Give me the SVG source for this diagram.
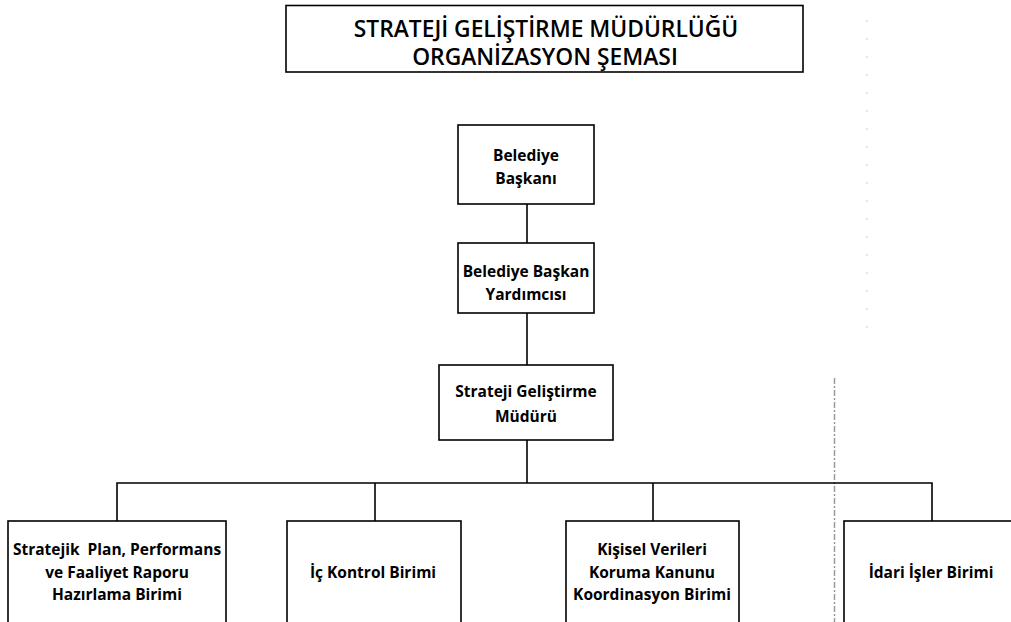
<svg xmlns="http://www.w3.org/2000/svg" width="1011" height="622" viewBox="0 0 1011 622">
<style>
.box{fill:#fff;stroke:#000;stroke-width:1.6}
.ln{fill:none;stroke:#000;stroke-width:1.6}
.t{font-family:"Open Sans","Noto Sans","Liberation Sans",sans-serif;font-weight:700;font-size:15.5px;fill:#000;text-anchor:middle}
.title{font-family:"Open Sans","Noto Sans","Liberation Sans",sans-serif;font-weight:600;font-size:22.8px;fill:#000;text-anchor:middle}
</style>
<rect width="1011" height="622" fill="#fff"/>
<g id="artifacts">
<line x1="834.5" y1="378" x2="834.5" y2="622" stroke="#999" stroke-width="1.5" stroke-dasharray="6 2 2 2"/>
<line x1="867" y1="20" x2="867" y2="340" stroke="#ccc" stroke-width="1" stroke-dasharray="2 16"/>
<path d="M583 621 L587 612 L591 621" fill="none" stroke="#000" stroke-width="1.5"/>
</g>
<g id="connectors">
<line class="ln" x1="527" y1="204" x2="527" y2="243"/>
<line class="ln" x1="527" y1="313" x2="527" y2="365"/>
<line class="ln" x1="527" y1="440" x2="527" y2="483"/>
<polyline class="ln" points="117,521 117,483 932,483 932,521"/>
<line class="ln" x1="375" y1="483" x2="375" y2="521"/>
<line class="ln" x1="653" y1="483" x2="653" y2="521"/>
</g>
<g id="title">
<rect class="box" x="286" y="5.5" width="517" height="66.5"/>
<text class="title" x="546" y="37">STRATEJİ GELİŞTİRME MÜDÜRLÜĞÜ</text>
<text class="title" x="545" y="65">ORGANİZASYON ŞEMASI</text>
</g>
<g id="baskan">
<rect class="box" x="458" y="125" width="136" height="79"/>
<text class="t" x="526" y="161">Belediye</text>
<text class="t" x="526" y="184">Başkanı</text>
</g>
<g id="yardimci">
<rect class="box" x="458" y="243" width="136" height="70"/>
<text class="t" x="526" y="277">Belediye Başkan</text>
<text class="t" x="526" y="300">Yardımcısı</text>
</g>
<g id="mudur">
<rect class="box" x="439" y="365" width="174" height="75"/>
<text class="t" x="526" y="397">Strateji Geliştirme</text>
<text class="t" x="526" y="422">Müdürü</text>
</g>
<g id="stratejik">
<rect class="box" x="8" y="521" width="218" height="110"/>
<text class="t" x="117" y="555" style="white-space:pre">Stratejik  Plan, Performans</text>
<text class="t" x="117" y="578">ve Faaliyet Raporu</text>
<text class="t" x="117" y="600">Hazırlama Birimi</text>
</g>
<g id="ickontrol">
<rect class="box" x="287" y="521" width="174" height="110"/>
<text class="t" x="373" y="578">İç Kontrol Birimi</text>
</g>
<g id="kisisel">
<rect class="box" x="566" y="521" width="173" height="110"/>
<text class="t" x="652" y="555">Kişisel Verileri</text>
<text class="t" x="652" y="578">Koruma Kanunu</text>
<text class="t" x="652" y="600">Koordinasyon Birimi</text>
</g>
<g id="idari">
<rect class="box" x="844" y="521" width="180" height="110"/>
<text class="t" x="931" y="578">İdari İşler Birimi</text>
</g>
</svg>
